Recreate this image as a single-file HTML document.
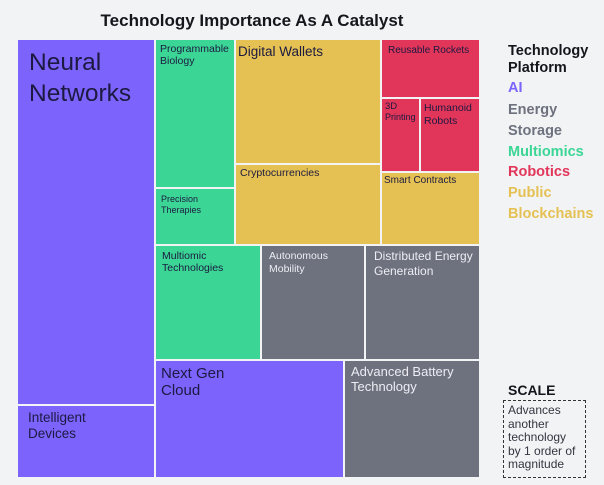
<!DOCTYPE html>
<html><head><meta charset="utf-8"><style>
*{margin:0;padding:0;box-sizing:border-box}
body{width:604px;height:485px;background:#f2f3f5;font-family:"Liberation Sans",sans-serif;position:relative;overflow:hidden}
.r{position:absolute}
.t{position:absolute;color:#1c1a40;white-space:nowrap}
.p{background:#7b63fc}.g{background:#3bd695}.y{background:#e4c152}.d{background:#e2355a}.k{background:#6e717e}
.w{color:#eceef3}
.title{position:absolute;left:0;width:500px;top:11px;text-align:center;font-weight:bold;font-size:17px;color:#15151c}
.leg{position:absolute;left:508px;font-weight:bold;font-size:14.5px;line-height:21px}
</style></head><body>
<div class="title" style="left:2px">Technology Importance As A Catalyst</div>

<div class="r p" style="left:18px;top:40px;width:136px;height:364px"></div>
<div class="t" style="left:29px;top:47px;font-size:24.5px;line-height:31px">Neural<br>Networks</div>
<div class="r p" style="left:18px;top:406px;width:136px;height:71px"></div>
<div class="t" style="left:28px;top:410px;font-size:13.5px;line-height:16px">Intelligent<br>Devices</div>

<div class="r g" style="left:156px;top:40px;width:78px;height:147px"></div>
<div class="t" style="left:160px;top:43px;font-size:10.5px;line-height:12px">Programmable<br>Biology</div>
<div class="r g" style="left:156px;top:189px;width:78px;height:55px"></div>
<div class="t" style="left:161px;top:194px;font-size:9px;line-height:11px">Precision<br>Therapies</div>

<div class="r y" style="left:236px;top:40px;width:144px;height:123px"></div>
<div class="t" style="left:238px;top:44px;font-size:13.5px;line-height:16px">Digital Wallets</div>
<div class="r y" style="left:236px;top:165px;width:144px;height:79px"></div>
<div class="t" style="left:240px;top:167px;font-size:10.5px;line-height:13px">Cryptocurrencies</div>

<div class="r d" style="left:382px;top:40px;width:97px;height:57px"></div>
<div class="t" style="left:388px;top:45px;font-size:10px;line-height:12px">Reusable Rockets</div>
<div class="r d" style="left:382px;top:99px;width:37px;height:72px"></div>
<div class="t" style="left:385px;top:101px;font-size:9.5px;line-height:11px">3D<br><span style="font-size:9px">Printing</span></div>
<div class="r d" style="left:421px;top:99px;width:58px;height:72px"></div>
<div class="t" style="left:424px;top:102px;font-size:10.5px;line-height:13px">Humanoid<br>Robots</div>

<div class="r y" style="left:382px;top:173px;width:97px;height:71px"></div>
<div class="t" style="left:384px;top:175px;font-size:10px;line-height:12px">Smart Contracts</div>

<div class="r g" style="left:156px;top:246px;width:104px;height:113px"></div>
<div class="t" style="left:162px;top:250px;font-size:10.5px;line-height:12px">Multiomic<br>Technologies</div>
<div class="r k" style="left:262px;top:246px;width:102px;height:113px"></div>
<div class="t w" style="left:269px;top:250px;font-size:10.5px;line-height:13px">Autonomous<br>Mobility</div>
<div class="r k" style="left:366px;top:246px;width:113px;height:113px"></div>
<div class="t w" style="left:374px;top:249px;font-size:12px;line-height:15px">Distributed Energy<br>Generation</div>

<div class="r p" style="left:156px;top:361px;width:187px;height:116px"></div>
<div class="t" style="left:161px;top:365px;font-size:15px;line-height:17px">Next Gen<br>Cloud</div>
<div class="r k" style="left:345px;top:361px;width:134px;height:116px"></div>
<div class="t w" style="left:351px;top:364px;font-size:13px;line-height:15px">Advanced Battery<br>Technology</div>

<div class="leg" style="top:43px;color:#15151c;line-height:17px">Technology<br>Platform</div>
<div class="leg" style="top:78px;color:#7b63fc">AI</div>
<div class="leg" style="top:100px;color:#6e717e">Energy<br>Storage</div>
<div class="leg" style="top:142px;color:#3bd695">Multiomics</div>
<div class="leg" style="top:162px;color:#e2355a">Robotics</div>
<div class="leg" style="top:183px;color:#e4c152">Public<br>Blockchains</div>

<div class="leg" style="top:380px;color:#15151c;font-size:14px">SCALE</div>
<div class="r" style="left:503px;top:400px;width:83px;height:78px;border:1px dashed #333"></div>
<div class="t" style="left:508px;top:404px;font-size:12px;line-height:13.5px;color:#333640">Advances<br>another<br>technology<br>by 1 order of<br>magnitude</div>
</body></html>
